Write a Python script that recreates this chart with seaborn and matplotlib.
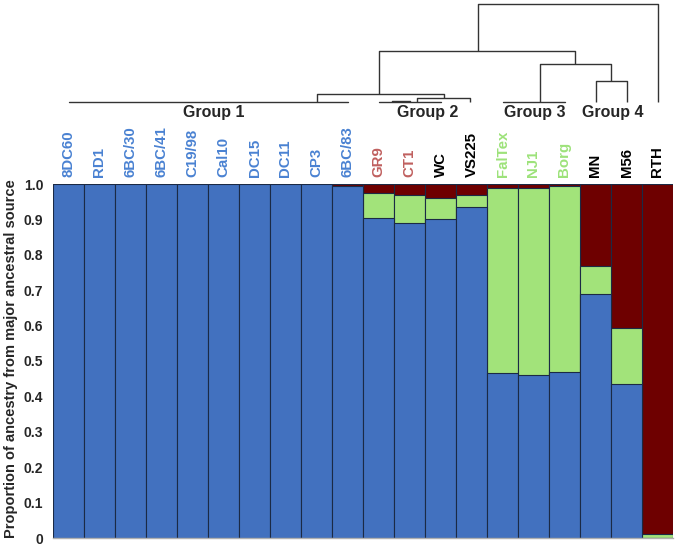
import matplotlib
matplotlib.use("Agg")
import matplotlib.pyplot as plt
import seaborn as sns
import pandas as pd
import numpy as np
from matplotlib import font_manager as fm

# ---- data ----
samples = ["8DC60", "RD1", "6BC/30", "6BC/41", "C19/98", "Cal10", "DC15", "DC11",
           "CP3", "6BC/83", "GR9", "CT1", "WC", "VS225", "FalTex", "NJ1", "Borg",
           "MN", "M56", "RTH"]
blue = [1.0, 1.0, 1.0, 1.0, 1.0, 1.0, 1.0, 1.0, 1.0, 0.995, 0.905, 0.89, 0.90,
        0.935, 0.465, 0.46, 0.47, 0.688, 0.435, 0.0]
green = [0.0, 0.0, 0.0, 0.0, 0.0, 0.0, 0.0, 0.0, 0.0, 0.0, 0.07, 0.08, 0.06,
         0.035, 0.525, 0.53, 0.525, 0.08, 0.157, 0.012]
red = [1 - b - g for b, g in zip(blue, green)]
label_groups = ["g1"] * 10 + ["g2r"] * 2 + ["k"] * 2 + ["g3"] * 3 + ["k"] * 3
yticks = [0, 0.1, 0.2, 0.3, 0.4, 0.5, 0.6, 0.7, 0.8, 0.9, 1.0]
ytick_labels = ["0", "0.1", "0.2", "0.3", "0.4", "0.5", "0.6", "0.7", "0.8", "0.9", "1.0"]

# dendrogram merges: (x_left, x_right, height, h_left_child, h_right_child)
dendro_merges = [
    (13.2, 19.0, 97.7, 51.3, 0.0),
    (10.0, 16.35, 51.3, 8.0, 38.0),
    (15.2, 17.5, 38.0, 0.0, 21.0),
    (17.0, 18.0, 21.0, 0.0, 0.0),
    (8.0, 12.1, 8.0, 0.0, 4.0),
    (11.25, 12.95, 4.0, 0.0, 0.0),
    (10.45, 11.0, 1.5, 0.0, 0.0),
]
leaf_lines = [(0.0, 9.0), (10.0, 12.0), (14.0, 16.0)]
group_names = ["Group 1", "Group 2", "Group 3", "Group 4"]
group_pos = [4.7, 11.6, 15.05, 17.55]

# ---- style ----
sns.set_style("white")
names = {f.name for f in fm.fontManager.ttflist}
base = "Liberation Sans" if "Liberation Sans" in names else "DejaVu Sans"
narrow = "Liberation Sans Narrow" if "Liberation Sans Narrow" in names else base
plt.rcParams["font.family"] = [base, "DejaVu Sans"]

c_blue = "#4271BF"
c_green = "#A2E37A"
c_red = "#6E0000"
edge = "#1B2A45"
label_colors = {"g1": "#4A82D2", "g2r": "#C0605F", "k": "#000000", "g3": "#9DE27A"}

fig = plt.figure(figsize=(6.75, 5.47), dpi=100)
W, H = 675, 547
x0, x1 = 53, 673
ytop, ybot = 184, 538
ax = fig.add_axes([x0 / W, (H - ybot) / H, (x1 - x0) / W, (ybot - ytop) / H])

df = pd.DataFrame({"sample": samples, "blue": blue, "green": green, "red": red})
df["cum_green"] = df["blue"] + df["green"]
df["cum_red"] = df["cum_green"] + df["red"]

for col, c in [("cum_red", c_red), ("cum_green", c_green), ("blue", c_blue)]:
    sns.barplot(data=df, x="sample", y=col, color=c, width=1.0, ax=ax,
                edgecolor=edge, linewidth=0.8, saturation=1, order=samples)

ax.set_xlim(-0.5, len(samples) - 0.5)
ax.set_ylim(0, 1.0)
ax.set_yticks(yticks)
ax.set_yticklabels(ytick_labels, fontsize=10, fontweight="bold")
ax.tick_params(axis="y", length=0, pad=7)
ax.xaxis.tick_top()
ax.set_xticks(range(len(samples)))
ax.set_xticklabels(samples, rotation=90, fontsize=10.8, fontweight="bold")
ax.tick_params(axis="x", length=0, pad=5)
for t, g in zip(ax.get_xticklabels(), label_groups):
    t.set_color(label_colors[g])
ax.set_xlabel("")
ax.set_ylabel("Proportion of ancestry from major ancestral source",
              fontsize=10.5, fontweight="bold")
ax.yaxis.set_label_coords(-0.056, 0.507)
for s in ["top", "left", "right"]:
    ax.spines[s].set_visible(False)
ax.spines["bottom"].set_color("#B0B0B0")
ax.spines["bottom"].set_linewidth(1.0)

# ---- dendrogram ----
dax = fig.add_axes([x0 / W, (H - 140) / H, (x1 - x0) / W, 140 / H])
dax.set_xlim(-0.5, len(samples) - 0.5)
dax.set_ylim(-38, 102)
dax.axis("off")
lc = "#333333"
lw = 1.0
for xl, xr, h, hl, hr in dendro_merges:
    dax.plot([xl, xl, xr, xr], [hl, h, h, hr], color=lc, lw=lw, solid_capstyle="butt")
for a, b in leaf_lines:
    dax.plot([a, b], [0, 0], color=lc, lw=lw)
for name, p in zip(group_names, group_pos):
    dax.text(p, -11, name, ha="center", va="center", fontsize=11.5,
             fontweight="bold", family=[narrow, "DejaVu Sans"])

fig.savefig("out.png", dpi=100)
